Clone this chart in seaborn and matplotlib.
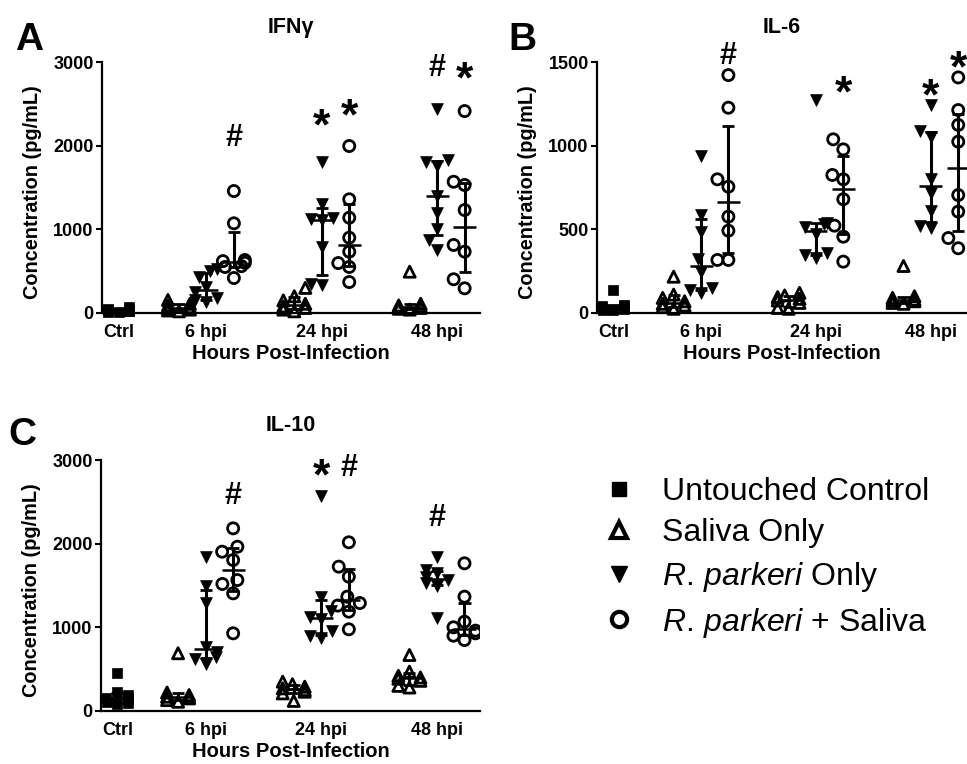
import numpy as np
import matplotlib
matplotlib.use('Agg')
import matplotlib.pyplot as plt
import matplotlib.transforms as mtransforms
from matplotlib.lines import Line2D
import seaborn as sns
import warnings

warnings.filterwarnings('ignore')

sns.set_theme(style='ticks', rc={'axes.edgecolor': 'black', 'xtick.color': 'black',
                                 'ytick.color': 'black', 'text.color': 'black',
                                 'axes.labelcolor': 'black'})
plt.rcParams['font.family'] = ['Liberation Sans', 'DejaVu Sans']
plt.rcParams['font.weight'] = 'bold'
plt.rcParams['mathtext.fontset'] = 'custom'
plt.rcParams['mathtext.it'] = 'Liberation Sans:style=italic:weight=normal'
plt.rcParams['mathtext.rm'] = 'Liberation Sans:weight=normal'

tick_labels = ['Ctrl', '6 hpi', '24 hpi', '48 hpi']

# IFN-gamma (pg/mL); saliva / rp / rps lists are [6 hpi, 24 hpi, 48 hpi]
ifng_ctrl = [70, 50, 40, 30, 25, 20, 15, 10]
ifng_saliva = [[155, 110, 90, 70, 55, 40, 30, 20],
               [300, 200, 150, 110, 80, 60, 40, 20],
               [494, 110, 90, 80, 70, 60, 50, 40]]
ifng_rp = [[520, 500, 430, 310, 250, 180, 150, 130],
           [1808, 1300, 1130, 1120, 1110, 790, 350, 335],
           [2438, 1830, 1800, 1760, 1400, 1200, 1000, 870, 750]]
ifng_rps = [[1458, 1072, 633, 620, 600, 560, 550, 418],
            [1996, 1359, 1139, 900, 733, 597, 550, 370],
            [2414, 1569, 1530, 1231, 813, 733, 403, 295]]
ifng_marks = [('#', 'rps', 0, 2127), ('*', 'rp', 1, 2366), ('*', 'rps', 1, 2486),
              ('#', 'rp', 2, 2964), ('*', 'rps', 2, 2928)]

# IL-6
il6_ctrl = [140, 50, 40, 35, 30, 25, 20, 15]
il6_saliva = [[217, 110, 90, 70, 55, 45, 35, 25],
              [120, 105, 95, 85, 75, 60, 30, 25],
              [281, 100, 90, 80, 75, 70, 60, 55]]
il6_rp = [[938, 586, 486, 320, 247, 150, 135, 120],
          [1273, 540, 530, 515, 470, 360, 345, 330],
          [1243, 1090, 1050, 800, 720, 610, 520, 510]]
il6_rps = [[1422, 1227, 799, 755, 576, 492, 317, 317],
           [1038, 978, 825, 799, 680, 522, 456, 307],
           [1408, 1213, 1124, 1024, 705, 606, 448, 387]]
il6_marks = [('#', 'rps', 0, 1552), ('*', 'rps', 1, 1382), ('*', 'rp', 2, 1362),
             ('*', 'rps', 2, 1532)]

# IL-10
il10_ctrl = [450, 230, 190, 160, 140, 110, 90, 80]
il10_saliva = [[690, 220, 190, 170, 160, 150, 130, 110],
               [350, 320, 290, 270, 250, 230, 210, 120],
               [669, 470, 420, 400, 385, 360, 300, 280]]
il10_rp = [[1844, 1490, 1290, 770, 700, 650, 620, 560],
           [2569, 1366, 1198, 1127, 1100, 950, 900, 870],
           [1844, 1680, 1650, 1600, 1560, 1530, 1490, 1108]]
il10_rps = [[2183, 1963, 1904, 1804, 1565, 1518, 1406, 928],
            [2016, 1725, 1605, 1366, 1290, 1260, 1187, 976],
            [1765, 1366, 1067, 1000, 960, 928, 900, 848]]
il10_marks = [('#', 'rps', 0, 2601), ('*', 'rp', 1, 2940), ('#', 'rps', 1, 2940),
              ('#', 'rp', 2, 2342)]

# column layout: Ctrl at 0, then three columns per time point
BASE = {'ctrl': 0.0, 'saliva': 2.2, 'rp': 3.2, 'rps': 4.2}
STEP = 4.2
tick_pos = [0.0, 3.2, 7.4, 11.6]


def swarm(ax, groups, key, marker, size, filled, lw):
    for i, vals in enumerate(groups):
        x = BASE[key] + STEP * i
        n0 = len(ax.collections)
        sns.swarmplot(x=[x] * len(vals), y=vals, native_scale=True, orient='x',
                      marker=marker, size=size, color='black', edgecolor='black',
                      linewidth=lw, ax=ax, zorder=3)
        if not filled:
            for c in ax.collections[n0:]:
                c.set_facecolor('none')
        # median with interquartile range
        q1, med, q3 = np.percentile(vals, [25, 50, 75], method='weibull')
        ax.vlines(x, q1, q3, color='black', lw=2.2, zorder=4)
        ax.hlines([q1, q3], x - 0.22, x + 0.22, color='black', lw=2.0, zorder=4)
        ax.hlines(med, x - 0.42, x + 0.42, color='black', lw=1.8, zorder=4)


def draw_panel(ax, ctrl, saliva, rp, rps, marks, ymax, yticks, ybot, xmax, title):
    ax.set_xlim(-0.6, xmax)
    ax.set_ylim(ybot, ymax)
    swarm(ax, [ctrl], 'ctrl', 's', 7, True, 0.5)
    swarm(ax, saliva, 'saliva', '^', 8, False, 2.0)
    swarm(ax, rp, 'rp', 'v', 8.5, True, 0.5)
    swarm(ax, rps, 'rps', 'o', 8, False, 2.0)
    ax.set_xlim(-0.6, xmax)
    ax.set_ylim(ybot, ymax)

    for sym, key, i, yv in marks:
        x = BASE[key] + STEP * i
        fs = 22 if sym == '#' else 32
        off = 0.36 * fs if sym == '#' else 0.55 * fs
        tr = mtransforms.offset_copy(ax.transData, fig=ax.figure, x=0, y=-off, units='points')
        ax.text(x, yv, sym, ha='center', va='baseline', fontsize=fs,
                fontweight='bold', transform=tr, zorder=5)

    ax.spines[['top', 'right']].set_visible(False)
    ax.spines['bottom'].set_position(('data', 0))
    ax.spines['left'].set_bounds(0, ymax)
    for s in ('left', 'bottom'):
        ax.spines[s].set_linewidth(1.6)
    ax.set_xticks(tick_pos, tick_labels)
    ax.set_yticks(yticks, [str(t) for t in yticks])
    ax.tick_params(axis='x', length=0, pad=8, labelsize=13)
    ax.tick_params(axis='y', length=4, width=1.5, pad=2, labelsize=13)
    ax.set_title(title, fontsize=15.5, fontweight='bold', pad=21)
    ax.set_xlabel('Hours Post-Infection', fontsize=14.5, fontweight='bold', labelpad=2)
    ax.set_ylabel('Concentration (pg/mL)', fontsize=14.3, fontweight='bold', labelpad=8)
    ax.grid(False)


fig = plt.figure(figsize=(9.67, 7.64), dpi=100)
ax_a = fig.add_axes([0.1055, 0.5772, 0.3909, 0.3416])
ax_b = fig.add_axes([0.6174, 0.5772, 0.3826, 0.3416])
ax_c = fig.add_axes([0.1044, 0.0563, 0.3919, 0.3416])

draw_panel(ax_a, ifng_ctrl, ifng_saliva, ifng_rp, ifng_rps, ifng_marks,
           3000, [0, 1000, 2000, 3000], -120, 13.16, 'IFNγ')
draw_panel(ax_b, il6_ctrl, il6_saliva, il6_rp, il6_rps, il6_marks,
           1500, [0, 500, 1000, 1500], -60, 12.92, 'IL-6')
draw_panel(ax_c, il10_ctrl, il10_saliva, il10_rp, il10_rps, il10_marks,
           3000, [0, 1000, 2000, 3000], -120, 13.16, 'IL-10')

fig.text(15 / 967, 1 - 50 / 764, 'A', fontsize=28, fontweight='bold', va='baseline')
fig.text(508 / 967, 1 - 50 / 764, 'B', fontsize=28, fontweight='bold', va='baseline')
fig.text(8 / 967, 1 - 445 / 764, 'C', fontsize=28, fontweight='bold', va='baseline')

handles = [Line2D([], [], ls='none', marker='s', ms=10, color='black'),
           Line2D([], [], ls='none', marker='^', ms=12, mfc='white', mec='black', mew=3),
           Line2D([], [], ls='none', marker='v', ms=12, color='black'),
           Line2D([], [], ls='none', marker='o', ms=11, mfc='white', mec='black', mew=3)]
labels = ['Untouched Control', 'Saliva Only',
          r'$\it{R.\,parkeri}$ Only', r'$\it{R.\,parkeri}$ + Saliva']
fig.legend(handles, labels, loc='upper left', bbox_to_anchor=(604 / 967, 1 - 477 / 764),
           frameon=False, prop={'size': 23, 'weight': 'normal'}, handlelength=0.95,
           handletextpad=0.85, labelspacing=0.36, borderpad=0, borderaxespad=0)

fig.savefig('out.png', dpi=100)
